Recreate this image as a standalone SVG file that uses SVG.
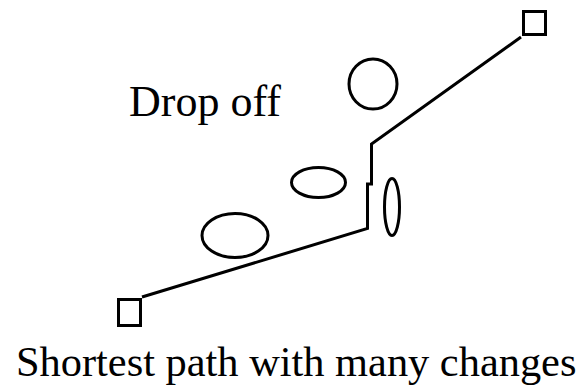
<svg xmlns="http://www.w3.org/2000/svg" width="583" height="386" viewBox="0 0 583 386">
<style>
.shape{fill:none;stroke:#000;stroke-width:3}
.conn{fill:none;stroke:#000;stroke-width:3;stroke-linejoin:miter}
</style>
<rect width="583" height="386" fill="#fff"/>
<g id="start"><rect class="shape" x="118.5" y="299.5" width="22" height="26"/></g>
<g id="goal"><rect class="shape" x="523.5" y="11.5" width="22" height="23"/></g>
<g id="obstacle-circle"><ellipse class="shape" cx="373" cy="84" rx="24" ry="25"/></g>
<g id="obstacle-mid"><ellipse class="shape" cx="318.5" cy="182.5" rx="27" ry="15"/></g>
<g id="obstacle-low"><ellipse class="shape" cx="235" cy="235.5" rx="33" ry="22"/></g>
<g id="obstacle-thin"><ellipse class="shape" cx="392" cy="207" rx="7.5" ry="28.5"/></g>
<g id="connectors">
<polyline class="conn" points="142,297 367.5,228.5 367.5,184 371.5,184 371.5,144 521,37"/>
</g>
<g id="label-dropoff"><text font-family="Liberation Serif" fill="#000" x="129" y="116" font-size="44">Drop off</text></g>
<g id="caption"><text font-family="Liberation Serif" fill="#000" x="16" y="376" font-size="42.4">Shortest path with many changes</text></g>
</svg>
